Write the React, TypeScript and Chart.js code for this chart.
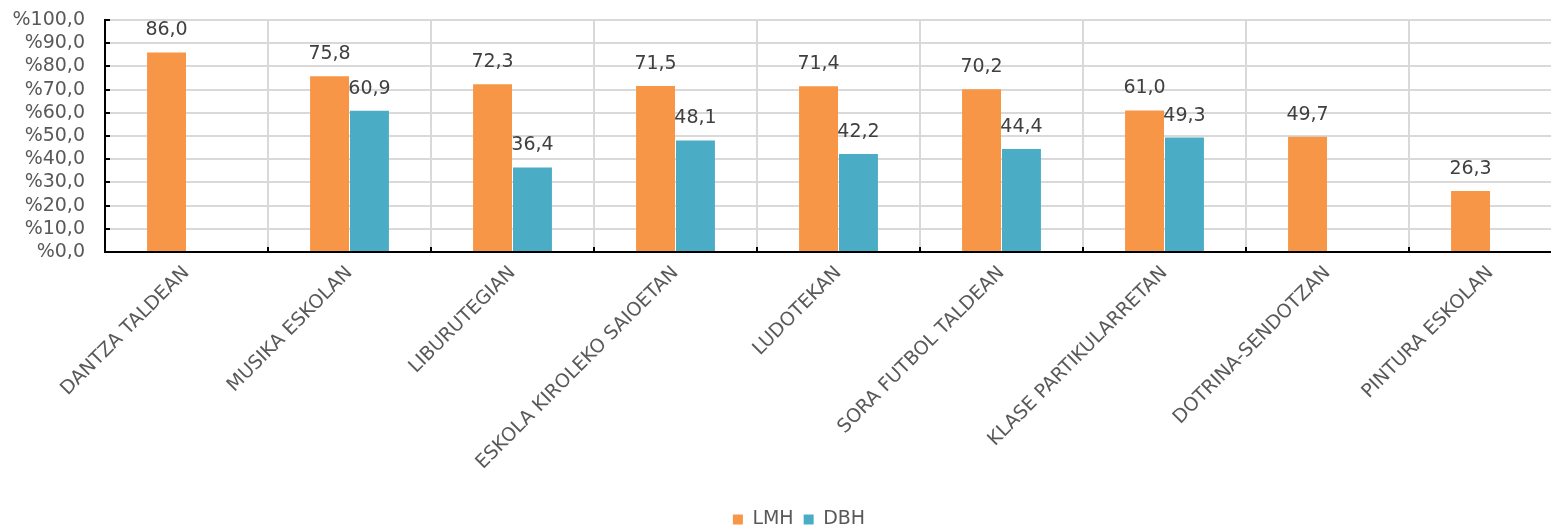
import React, { useEffect, useRef } from "react";
import { Chart, registerables } from "chart.js";

Chart.register(...registerables);

const categories = [
  "DANTZA TALDEAN",
  "MUSIKA ESKOLAN",
  "LIBURUTEGIAN",
  "ESKOLA KIROLEKO SAIOETAN",
  "LUDOTEKAN",
  "SORA FUTBOL TALDEAN",
  "KLASE PARTIKULARRETAN",
  "DOTRINA-SENDOTZAN",
  "PINTURA ESKOLAN",
];
const lmhValues = [86.0, 75.8, 72.3, 71.5, 71.4, 70.2, 61.0, 49.7, 26.3];
const dbhValues = [null, 60.9, 36.4, 48.1, 42.2, 44.4, 49.3, null, null];
const seriesNames = ["LMH", "DBH"];
const seriesColors = ["#F79646", "#4BACC6"];

const FONT = "'DejaVu Sans', Verdana, sans-serif";
const FS = 19;
const fmt = (v: number) => v.toFixed(1).replace(".", ",");

const dataLabelPlugin = {
  id: "dataLabels",
  afterDatasetsDraw(chart: any) {
    const ctx = chart.ctx;
    ctx.save();
    ctx.font = `${FS}px ${FONT}`;
    ctx.fillStyle = "#404040";
    ctx.textAlign = "center";
    ctx.textBaseline = "middle";
    chart.data.datasets.forEach((ds: any, di: number) => {
      const meta = chart.getDatasetMeta(di);
      meta.data.forEach((el: any, i: number) => {
        const v = ds.data[i];
        if (v === null || v === undefined) return;
        ctx.fillText(fmt(v), el.x, el.y - 22);
      });
    });
    ctx.restore();
  },
};

const innerTicksPlugin = {
  id: "innerTicks",
  afterDraw(chart: any) {
    const ctx = chart.ctx;
    const { left, bottom } = chart.chartArea;
    const y = chart.scales.y;
    const x = chart.scales.x;
    ctx.save();
    ctx.strokeStyle = "#000";
    ctx.lineWidth = 2;
    ctx.beginPath();
    y.ticks.forEach((t: any) => {
      const py = Math.round(y.getPixelForValue(t.value));
      ctx.moveTo(left, py);
      ctx.lineTo(left + 5, py);
    });
    const n = categories.length;
    for (let i = 1; i <= n; i++) {
      const px = Math.round((x.getPixelForValue(i - 1) + x.getPixelForValue(i)) / 2);
      ctx.moveTo(px, bottom);
      ctx.lineTo(px, bottom - 5);
    }
    ctx.stroke();
    ctx.restore();
  },
};

export default function App() {
  const ref = useRef<HTMLCanvasElement | null>(null);
  useEffect(() => {
    if (!ref.current) return;
    Chart.defaults.font.family = FONT;
    const chart = new Chart(ref.current, {
      type: "bar",
      data: {
        labels: categories,
        datasets: [
          {
            label: seriesNames[0],
            data: lmhValues,
            backgroundColor: seriesColors[0],
            categoryPercentage: 0.49,
            barPercentage: 0.975,
          },
          {
            label: seriesNames[1],
            data: dbhValues as any,
            backgroundColor: seriesColors[1],
            categoryPercentage: 0.49,
            barPercentage: 0.975,
          },
        ],
      },
      options: {
        animation: false,
        responsive: false,
        maintainAspectRatio: false,
        layout: { padding: { top: 20, right: 0, left: 0, bottom: 0 } },
        plugins: {
          legend: {
            position: "bottom",
            labels: {
              boxWidth: 10,
              boxHeight: 10,
              color: "#595959",
              font: { size: FS, family: FONT },
              padding: 10,
            },
          },
          tooltip: { enabled: false },
        },
        scales: {
          x: {
            offset: true,
            grid: {
              offset: true,
              color: "#d9d9d9",
              lineWidth: 2,
              drawTicks: false,
            },
            border: { color: "#000", width: 2 },
            ticks: {
              color: "#595959",
              font: { size: FS, family: FONT },
              minRotation: 45,
              maxRotation: 45,
              autoSkip: false,
              padding: 10,
            },
            afterFit: (s: any) => {
              s.height = 248;
            },
          },
          y: {
            min: 0,
            max: 100,
            grid: {
              color: "#d9d9d9",
              lineWidth: 2,
              drawTicks: true,
              tickLength: 20,
              tickColor: "rgba(0,0,0,0)",
            },
            border: { color: "#000", width: 2 },
            ticks: {
              stepSize: 10,
              autoSkip: false,
              color: "#595959",
              font: { size: FS, family: FONT, lineHeight: 1 },
              padding: 0,
              callback: (v: any) => "%" + fmt(Number(v)),
            },
            afterFit: (s: any) => {
              s.width = 105;
            },
          },
          yRight: {
            position: "right",
            min: 0,
            max: 100,
            grid: { display: false, drawTicks: false },
            border: { display: false },
            ticks: { display: false, padding: 0 },
            afterFit: (s: any) => {
              s.width = 26;
            },
          },
        },
      },
      plugins: [dataLabelPlugin, innerTicksPlugin],
    });
    return () => chart.destroy();
  }, []);
  return (
    <div
      style={{
        position: "fixed",
        left: 0,
        top: 0,
        width: 1551,
        height: 528,
        overflow: "hidden",
        background: "#fff",
      }}
    >
      <canvas ref={ref} width={1598} height={539} style={{ width: 1598, height: 539, display: "block" }} />
    </div>
  );
}
